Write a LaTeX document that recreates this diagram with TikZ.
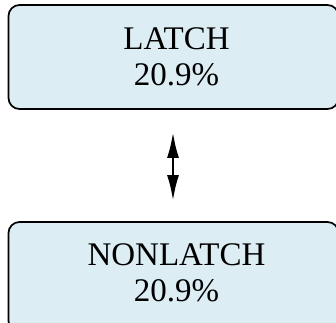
\documentclass[tikz,border=0pt]{standalone}
\usepackage{fontspec}
\setmainfont{Liberation Serif}
\usetikzlibrary{arrows.meta}
\definecolor{boxfill}{RGB}{220,237,244}
\tikzset{
  statebox/.style={draw=black, line width=1.7pt, fill=boxfill, rounded corners=11pt,
    minimum width=330pt, inner sep=0pt},
  statetext/.style={align=center, inner sep=0pt, font=\fontsize{33pt}{36pt}\selectfont},
  link/.style={line width=2.8pt, {Latex[length=26pt,width=12pt]}-{Latex[length=26pt,width=12pt]}}
}
\begin{document}
\begin{tikzpicture}[x=1pt,y=1pt]
\useasboundingbox (0,0) rectangle (336,-322);
\clip (0,0) rectangle (336,-322);
\node[statebox, minimum height=104pt] (top) at (173.5,-57) {};
\node[statetext] (toptext) at (176.5,-57) {LATCH\\20.9\%};
\node[statebox, minimum height=110pt] (bot) at (173.5,-277) {};
\node[statetext] (bottext) at (176.5,-272.5) {NONLATCH\\20.9\%};
\coordinate (a1) at ([xshift=-3.5pt,yshift=-22pt]top.south -| toptext);
\coordinate (a2) at ([xshift=-3.5pt,yshift=20pt]bot.north -| bottext);
\draw[link] (a1) -- (a2);
\end{tikzpicture}
\end{document}
